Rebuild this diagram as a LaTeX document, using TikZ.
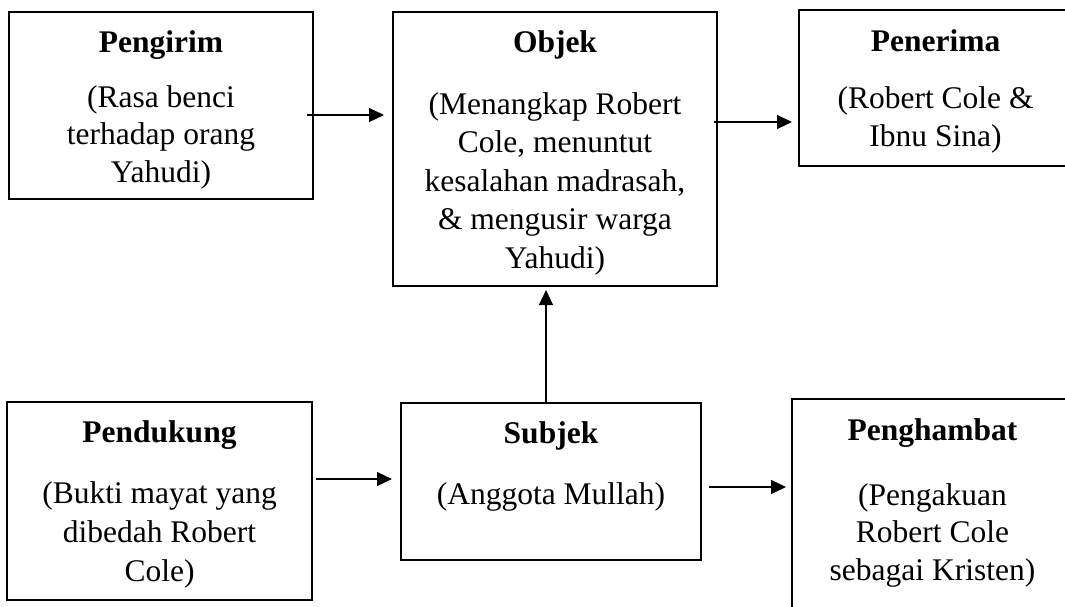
\documentclass[tikz,border=0pt]{standalone}
\usepackage{fontspec}
\setmainfont{Liberation Serif}
\usetikzlibrary{arrows.meta,calc}

\begin{document}
\begin{tikzpicture}[x=1pt,y=-1pt,
  box/.style={draw=black, line width=1.8pt, rectangle, inner sep=0pt, outer sep=0pt, anchor=north west},
  title/.style={inner sep=0pt, anchor=base, font=\fontsize{31.5}{37.5}\selectfont\bfseries},
  body/.style={inner sep=0pt, anchor=base, align=center, font=\fontsize{31.5}{37.5}\selectfont},
  arr/.style={line width=1.2pt, -{Triangle[length=15pt,width=14pt]}}
]
\useasboundingbox (0,0) rectangle (1065,606);
\clip (0,0) rectangle (1065,606);

% boxes
\node[box, minimum width=304pt, minimum height=187pt] (pengirim)   at (9,12)    {};
\node[box, minimum width=324pt, minimum height=274pt] (objek)      at (393,12)  {};
\node[box, minimum width=273pt, minimum height=156pt] (penerima)   at (799,10)  {};
\node[box, minimum width=305pt, minimum height=198pt] (pendukung)  at (7,402)   {};
\node[box, minimum width=300pt, minimum height=157pt] (subjek)     at (401,403) {};
\node[box, minimum width=281pt, minimum height=230pt] (penghambat) at (792,399) {};

% titles and descriptions (descriptions are placed by the baseline of their last line)
\node[title] (t1) at ([yshift=-40pt]pengirim.north) {Pengirim};
\node[body]  (b1) at ([yshift=-170pt]pengirim.north) {(Rasa benci\\terhadap orang\\Yahudi)};

\node[title] (t2) at ([yshift=-40pt]objek.north) {Objek};
\node[body, font=\fontsize{31.5}{38.5}\selectfont] (b2) at ([yshift=-256pt]objek.north) {(Menangkap Robert\\Cole, menuntut\\kesalahan madrasah,\\\& mengusir warga\\Yahudi)};

\node[title] (t3) at ([yshift=-41pt]penerima.north) {Penerima};
\node[body]  (b3) at ([yshift=-136pt]penerima.north) {(Robert Cole \&\\Ibnu Sina)};

\node[title] (t4) at ([yshift=-40pt]pendukung.north) {Pendukung};
\node[body, font=\fontsize{31.5}{39}\selectfont] (b4) at ([yshift=-179pt]pendukung.north) {(Bukti mayat yang\\dibedah Robert\\Cole)};

\node[title] (t5) at ([yshift=-40pt]subjek.north) {Subjek};
\node[body]  (b5) at ([yshift=-101pt]subjek.north) {(Anggota Mullah)};

\node[title] (t6) at ([yshift=-41pt]penghambat.north) {Penghambat};
\node[body]  (b6) at ([yshift=-181pt]penghambat.north) {(Pengakuan\\Robert Cole\\sebagai Kristen)};

% connectors
\coordinate (c1) at ([xshift=-6pt,yshift=-9.5pt]pengirim.east);
\draw[arr, shorten >=9pt] (c1) -- (c1 -| objek.west);

\coordinate (c2) at ([xshift=-3pt,yshift=27pt]objek.east);
\draw[arr, shorten >=7pt] (c2) -- (c2 -| penerima.west);

\coordinate (c3) at ([xshift=4pt,yshift=22pt]pendukung.east);
\draw[arr, shorten >=9pt] (c3) -- (c3 -| subjek.west);

\coordinate (c4) at ([xshift=8pt,yshift=-5.5pt]subjek.east);
\draw[arr, shorten >=6pt] (c4) -- (c4 -| penghambat.west);

\coordinate (c5) at ([xshift=-5pt]subjek.north);
\draw[arr, shorten >=4pt] (c5) -- (c5 |- objek.south);
\end{tikzpicture}
\end{document}
